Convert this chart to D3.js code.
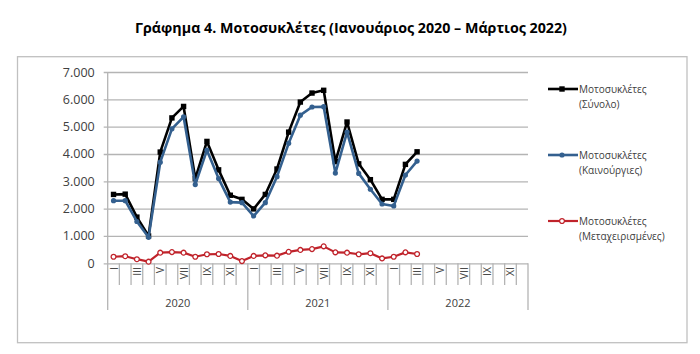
<!DOCTYPE html>
<html>
<head>
<meta charset="utf-8">
<script src="https://cdn.jsdelivr.net/npm/d3@7"></script>
<style>
  body { margin: 0; background: #fff; }
  svg text { font-family: "Open Sans", "Noto Sans", sans-serif; fill: #404040; }
</style>
</head>
<body>
<svg id="chart" width="700" height="354"></svg>
<script>
// chart data
const years = ["2020", "2021", "2022"];
const months = ["I", "II", "III", "IV", "V", "VI", "VII", "VIII", "IX", "X", "XI", "XII"];
const shownMonths = ["I", "III", "V", "VII", "IX", "XI"];
const yTicks = [0, 1000, 2000, 3000, 4000, 5000, 6000, 7000];

const totalBikes = [2520, 2530, 1690, 1000, 4070, 5320, 5740, 3100, 4460, 3420, 2490, 2340,
  1990, 2520, 3450, 4800, 5900, 6230, 6330, 3720, 5170, 3640, 3060, 2340,
  2340, 3620, 4080];
const newBikes = [2290, 2290, 1530, 950, 3700, 4920, 5360, 2880, 4140, 3100, 2240, 2220,
  1730, 2220, 3170, 4390, 5420, 5720, 5730, 3300, 4800, 3290, 2710, 2170,
  2100, 3230, 3740];
const usedBikes = [240, 260, 150, 60, 390, 410, 390, 240, 330, 340, 270, 80,
  270, 290, 280, 420, 490, 520, 620, 400, 390, 330, 370, 180,
  240, 400, 340];

const seriesNames = [
  ["Μοτοσυκλέτες", "(Σύνολο)"],
  ["Μοτοσυκλέτες", "(Καινούργιες)"],
  ["Μοτοσυκλέτες", "(Μεταχειρισμένες)"],
];
const title = "Γράφημα 4. Μοτοσυκλέτες (Ιανουάριος 2020 – Μάρτιος 2022)";

const svg = d3.select("#chart");
const plot = { left: 107.7, right: 528, top: 72, bottom: 263.3 };
const gridColor = "#b4b4b4";

const categories = years.flatMap((yr) => months.map((m) => yr + "-" + m));

const x = d3.scaleBand().domain(categories).range([plot.left, plot.right]);
const y = d3.scaleLinear().domain([0, 7000]).range([plot.bottom, plot.top]);
const cx = (i) => x(categories[i]) + x.bandwidth() / 2;

const fmt = d3.formatLocale({ decimal: ",", thousands: ".", grouping: [3], currency: ["", ""] }).format(",");

// outer frame
svg.append("rect")
  .attr("x", 17.5).attr("y", 56.7)
  .attr("width", 669.5).attr("height", 286)
  .attr("fill", "none")
  .attr("stroke", "#c0c0c0")
  .attr("stroke-width", 1.3);

// title, squeezed to the width it has in the picture
const titleText = svg.append("text")
  .attr("x", 351).attr("y", 27)
  .attr("text-anchor", "middle")
  .attr("dominant-baseline", "central")
  .style("font-weight", "bold")
  .style("font-size", "16px")
  .style("fill", "#000")
  .text(title);
const tw = titleText.node().getComputedTextLength();
titleText.style("font-size", (16 * 432) / tw + "px");

// gridlines
svg.append("g")
  .attr("transform", `translate(${plot.left},0)`)
  .call(d3.axisLeft(y).tickValues(yTicks).tickSize(4).tickFormat(""))
  .call((g) => g.select(".domain").remove())
  .call((g) => g.selectAll(".tick line")
    .attr("x2", plot.right - plot.left)
    .attr("x1", -4)
    .attr("stroke", gridColor)
    .attr("stroke-width", 1.3));

// y labels
svg.append("g")
  .attr("transform", `translate(${plot.left},0)`)
  .call(d3.axisLeft(y).tickValues(yTicks).tickSize(0).tickPadding(13).tickFormat(fmt))
  .call((g) => g.select(".domain").remove())
  .call((g) => g.selectAll("text")
    .style("font-size", "12.5px")
    .style("font-family", "\"Open Sans\", sans-serif")
    .attr("fill", "#404040"));

// category boundaries on the x axis
const bounds = d3.range(categories.length + 1);
svg.append("g")
  .selectAll("line")
  .data(bounds)
  .join("line")
  .attr("x1", (i) => plot.left + i * x.step())
  .attr("x2", (i) => plot.left + i * x.step())
  .attr("y1", (i) => (i === 0 ? plot.top : plot.bottom))
  .attr("y2", (i) => (i % 12 === 0 ? 310 : 285))
  .attr("stroke", gridColor)
  .attr("stroke-width", 1.3);

// month labels, rotated
svg.append("g")
  .selectAll("text")
  .data(categories.filter((c) => shownMonths.includes(c.split("-")[1])))
  .join("text")
  .attr("transform", (c) => `translate(${x(c) + x.bandwidth() / 2},267) rotate(-90)`)
  .attr("text-anchor", "end")
  .attr("dominant-baseline", "central")
  .style("font-size", "10.5px")
  .text((c) => c.split("-")[1]);

// year labels
svg.append("g")
  .selectAll("text")
  .data(years)
  .join("text")
  .attr("x", (yr, k) => plot.left + (k * 12 + 6) * x.step())
  .attr("y", 302)
  .attr("text-anchor", "middle")
  .attr("dominant-baseline", "central")
  .style("font-size", "11px")
  .text((yr) => yr);

const series = [
  { values: totalBikes, color: "#000000", width: 2.6, marker: "square" },
  { values: newBikes, color: "#34608f", width: 2.6, marker: "dot" },
  { values: usedBikes, color: "#c0232b", width: 2.2, marker: "ring" },
];

const line = d3.line().x((d, i) => cx(i)).y((d) => y(d));

function drawMarker(sel, s) {
  if (s.marker === "square") {
    sel.append("rect")
      .attr("x", -2.7).attr("y", -2.7)
      .attr("width", 5.4).attr("height", 5.4)
      .attr("fill", s.color);
  } else if (s.marker === "dot") {
    sel.append("circle").attr("r", 2.6).attr("fill", s.color);
  } else {
    sel.append("circle")
      .attr("r", 2.4)
      .attr("fill", "#fff")
      .attr("stroke", s.color)
      .attr("stroke-width", 1.3);
  }
}

series.forEach((s) => {
  svg.append("path")
    .datum(s.values)
    .attr("d", line)
    .attr("fill", "none")
    .attr("stroke", s.color)
    .attr("stroke-width", s.width)
    .attr("stroke-linejoin", "round");

  svg.append("g")
    .selectAll("g")
    .data(s.values)
    .join("g")
    .attr("transform", (d, i) => `translate(${cx(i)},${y(d)})`)
    .each(function () { drawMarker(d3.select(this), s); });
});

// legend
const legend = svg.append("g").attr("transform", "translate(548,0)");
const legendRows = [89, 155, 221];
series.forEach((s, k) => {
  const row = legend.append("g").attr("transform", `translate(0,${legendRows[k]})`);
  row.append("line")
    .attr("x1", 0).attr("x2", 30)
    .attr("stroke", s.color)
    .attr("stroke-width", s.width);
  drawMarker(row.append("g").attr("transform", "translate(14,0)"), s);
  row.append("text")
    .attr("x", 31).attr("y", 0)
    .attr("dominant-baseline", "central")
    .style("font-size", "10px")
    .selectAll("tspan")
    .data(seriesNames[k])
    .join("tspan")
    .attr("x", 31)
    .attr("dy", (d, j) => (j === 0 ? 0 : 15))
    .text((d) => d);
});
</script>
</body>
</html>
